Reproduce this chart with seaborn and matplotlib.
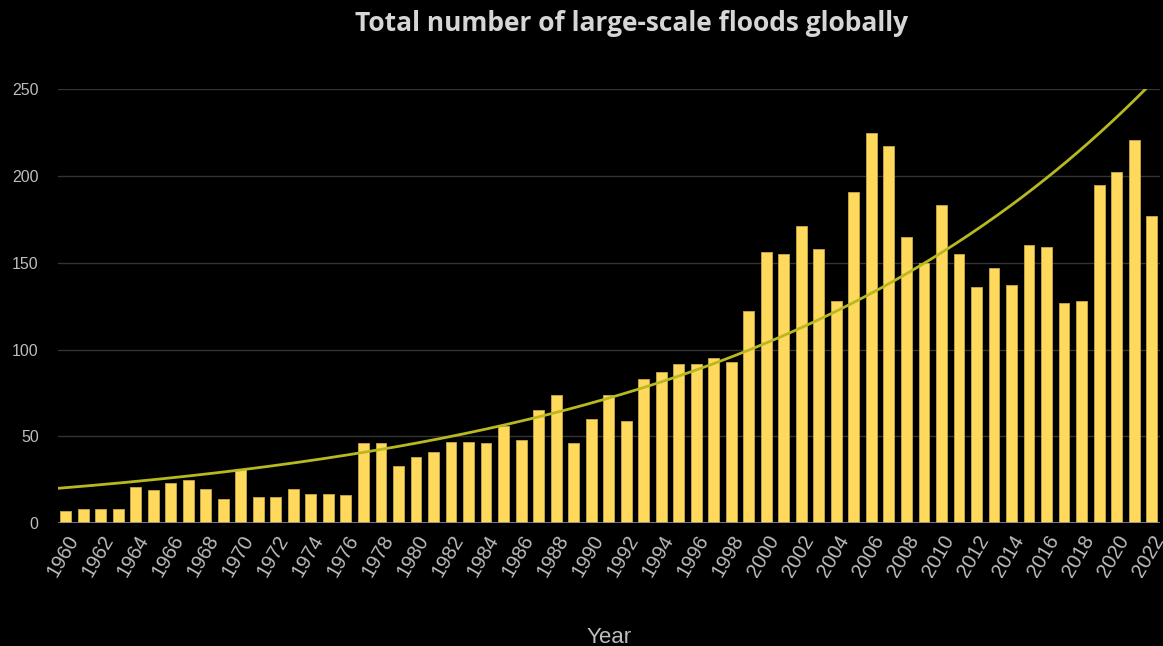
import numpy as np
import pandas as pd
import matplotlib
matplotlib.use("Agg")
import matplotlib.pyplot as plt
import seaborn as sns

years = list(range(1960, 2023))
floods = [7, 8, 8, 8, 21, 19, 23, 25, 20, 14,
          31, 15, 15, 20, 17, 17, 16, 46, 46, 33,
          38, 41, 47, 47, 46, 56, 48, 65, 74, 46,
          60, 74, 59, 83, 87, 92, 92, 95, 93, 122,
          156, 155, 171, 158, 128, 191, 225, 217, 165, 150,
          183, 155, 136, 147, 137, 160, 159, 127, 128, 195,
          202, 221, 177]
y_ticks = [0, 50, 100, 150, 200, 250]

df = pd.DataFrame({"Year": years, "Floods": floods})

sns.set_theme(style="dark")
plt.rcParams["font.family"] = ["Liberation Sans", "DejaVu Sans"]

bg = "#000000"
bar_col = "#FFD95C"
trend_col = "#B8B820"
txt_col = "#BDBDBD"

fig, ax = plt.subplots(figsize=(11.63, 6.46), dpi=100)
fig.patch.set_facecolor(bg)
ax.set_facecolor(bg)

sns.barplot(data=df, x="Year", y="Floods", native_scale=True, color=bar_col,
            width=0.62, saturation=1, linewidth=0.6, edgecolor="#C9A94A",
            ax=ax, zorder=2)

# exponential trendline, fitted on log values
t = df["Year"] - 1960
b, a = np.polyfit(t, np.log(df["Floods"]), 1, w=np.sqrt(df["Floods"]))
x0, x1 = 1959.57, 2022.45
xs = np.linspace(x0, x1, 300)
trend = pd.DataFrame({"Year": xs, "Trend": np.exp(a + b * (xs - 1960))})
sns.lineplot(data=trend, x="Year", y="Trend", color=trend_col, lw=2, ax=ax, zorder=3)

ax.set_xlim(x0, x1)
ax.set_ylim(0, 250)
ax.set_yticks(y_ticks)
ax.set_yticklabels([str(v) for v in y_ticks], fontsize=11.5, color=txt_col)
ax.set_xticks(years[::2])
ax.set_xticklabels([str(y) for y in years[::2]], rotation=60, ha="right",
                   rotation_mode="anchor", fontsize=14.5, color=txt_col)
ax.tick_params(axis="y", length=0, pad=14)
ax.tick_params(axis="x", length=0, pad=6)
ax.yaxis.grid(True, color="#333333", lw=1)
ax.xaxis.grid(False)
ax.axhline(0, color="#8a8a8a", lw=1.2, zorder=4)
for s in ax.spines.values():
    s.set_visible(False)

ax.set_ylabel("")
ax.set_xlabel("Year", color=txt_col, fontsize=16, labelpad=34)
fig.suptitle("Total number of large-scale floods globally", x=0.543, y=0.984,
             color="#D6D6D6", fontsize=19, fontweight="bold", family="Open Sans")

plt.subplots_adjust(left=0.05, right=0.997, top=0.862, bottom=0.19)
fig.savefig("out.png", dpi=100, facecolor=bg)
